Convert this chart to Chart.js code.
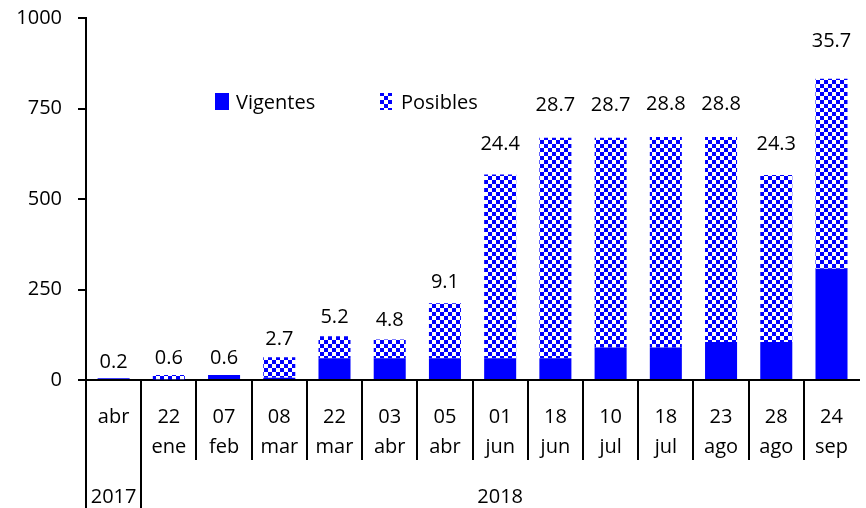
<!DOCTYPE html>
<html>
<head>
<meta charset="utf-8">
<script src="https://cdn.jsdelivr.net/npm/chart.js@4"></script>
<style>
  html, body { margin: 0; padding: 0; overflow: hidden; background: #fff; }
</style>
</head>
<body>
<canvas id="chart" width="870" height="508"></canvas>
<script>
// categories (day / month / year)
const days   = ['', '22', '07', '08', '22', '03', '05', '01', '18', '10', '18', '23', '28', '24'];
const months = ['abr', 'ene', 'feb', 'mar', 'mar', 'abr', 'abr', 'jun', 'jun', 'jul', 'jul', 'ago', 'ago', 'sep'];
const years  = ['2017', '2018', '2018', '2018', '2018', '2018', '2018', '2018', '2018', '2018', '2018', '2018', '2018', '2018'];

// series
const vigentes = [5, 2, 14, 6, 60, 60, 60, 60, 60, 90, 90, 105, 105, 307];
const posibles = [0, 12, 0, 57, 61, 52, 152, 508, 609, 579, 581, 566, 461, 525];
const etiquetas = ['0.2', '0.6', '0.6', '2.7', '5.2', '4.8', '9.1', '24.4', '28.7', '28.7', '28.8', '28.8', '24.3', '35.7'];

const yTicks = [0, 250, 500, 750, 1000];

const BLUE = '#0000ff';
const FONT = "'Open Sans', 'Liberation Sans', sans-serif";
const FS = 20;

Chart.defaults.color = '#000';
Chart.defaults.font.family = FONT;
Chart.defaults.font.size = FS;

// checkerboard fill for "Posibles"
function checker() {
    const c = document.createElement('canvas');
    c.width = 8; c.height = 8;
    const g = c.getContext('2d');
    g.fillStyle = '#fff';
    g.fillRect(0, 0, 8, 8);
    g.fillStyle = BLUE;
    g.fillRect(0, 0, 4, 4);
    g.fillRect(4, 4, 4, 4);
    return g.createPattern(c, 'repeat');
}
const pattern = checker();

const labels = days.map((d, i) => d ? [d, months[i]] : months[i]);

// value labels, legend, category separators and year row
const extras = {
    id: 'extras',
    afterDatasetsDraw(chart) {
        const ctx = chart.ctx;
        const x = chart.scales.x;
        const area = chart.chartArea;
        ctx.save();
        ctx.font = FS + 'px ' + FONT;
        ctx.fillStyle = '#000';
        ctx.textAlign = 'center';
        ctx.textBaseline = 'middle';

        const top = chart.getDatasetMeta(1).data;
        top.forEach((bar, i) => {
            const h = area.bottom - bar.y;
            ctx.fillText(etiquetas[i], bar.x, bar.y - 16 - 0.07 * h);
        });

        // legend
        const ds = chart.data.datasets;
        ctx.textAlign = 'left';
        ctx.fillStyle = ds[0].backgroundColor;
        ctx.fillRect(215, 93, 14, 17);
        ctx.fillStyle = '#000';
        ctx.fillText(ds[0].label, 236, 103);
        ctx.fillStyle = ds[1].backgroundColor;
        ctx.fillRect(380, 93, 12, 17);
        ctx.fillStyle = '#000';
        ctx.fillText(ds[1].label, 401, 103);

        // separators between categories
        const w = x.width / days.length;
        ctx.strokeStyle = '#000';
        ctx.lineWidth = 2;
        for (let i = 0; i < days.length; i++) {
            const bx = Math.round(x.left + i * w);
            const longLine = i === 0 || years[i] !== years[i - 1];
            ctx.beginPath();
            ctx.moveTo(bx, area.bottom);
            ctx.lineTo(bx, longLine ? chart.height : 460);
            ctx.stroke();
        }

        // year row
        ctx.textAlign = 'center';
        let start = 0;
        for (let i = 1; i <= years.length; i++) {
            if (i === years.length || years[i] !== years[start]) {
                const cx = x.left + ((start + i) / 2) * w;
                ctx.fillText(years[start], cx, 497);
                start = i;
            }
        }
        ctx.restore();
    }
};

new Chart(document.getElementById('chart'), {
    type: 'bar',
    data: {
        labels: labels,
        datasets: [
            { label: 'Vigentes', data: vigentes, backgroundColor: BLUE, borderWidth: 0 },
            { label: 'Posibles', data: posibles, backgroundColor: pattern, borderWidth: 0 }
        ]
    },
    options: {
        responsive: false,
        animation: false,
        devicePixelRatio: 1,
        layout: { padding: { top: 18, left: 0, right: 0, bottom: 0 } },
        datasets: { bar: { categoryPercentage: 1, barPercentage: 0.58 } },
        plugins: { legend: { display: false }, tooltip: { enabled: false } },
        scales: {
            x: {
                stacked: true,
                grid: { display: false, drawTicks: false },
                border: { color: '#000', width: 2 },
                ticks: { maxRotation: 0, autoSkip: false, padding: 22, font: { size: FS, lineHeight: '30px' } },
                afterFit(scale) { scale.height = 128; }
            },
            y: {
                stacked: true,
                min: 0,
                max: 1000,
                afterBuildTicks(scale) { scale.ticks = yTicks.map(v => ({ value: v })); },
                grid: { drawOnChartArea: false, drawTicks: true, tickLength: 8, color: '#000', lineWidth: 2 },
                border: { color: '#000', width: 2 },
                ticks: { padding: 16, callback: v => String(v) },
                afterFit(scale) {
                    scale.width = 86;
                    scale.paddingTop = 0;
                    scale.paddingBottom = 0;
                }
            }
        }
    },
    plugins: [extras]
});
</script>
</body>
</html>
